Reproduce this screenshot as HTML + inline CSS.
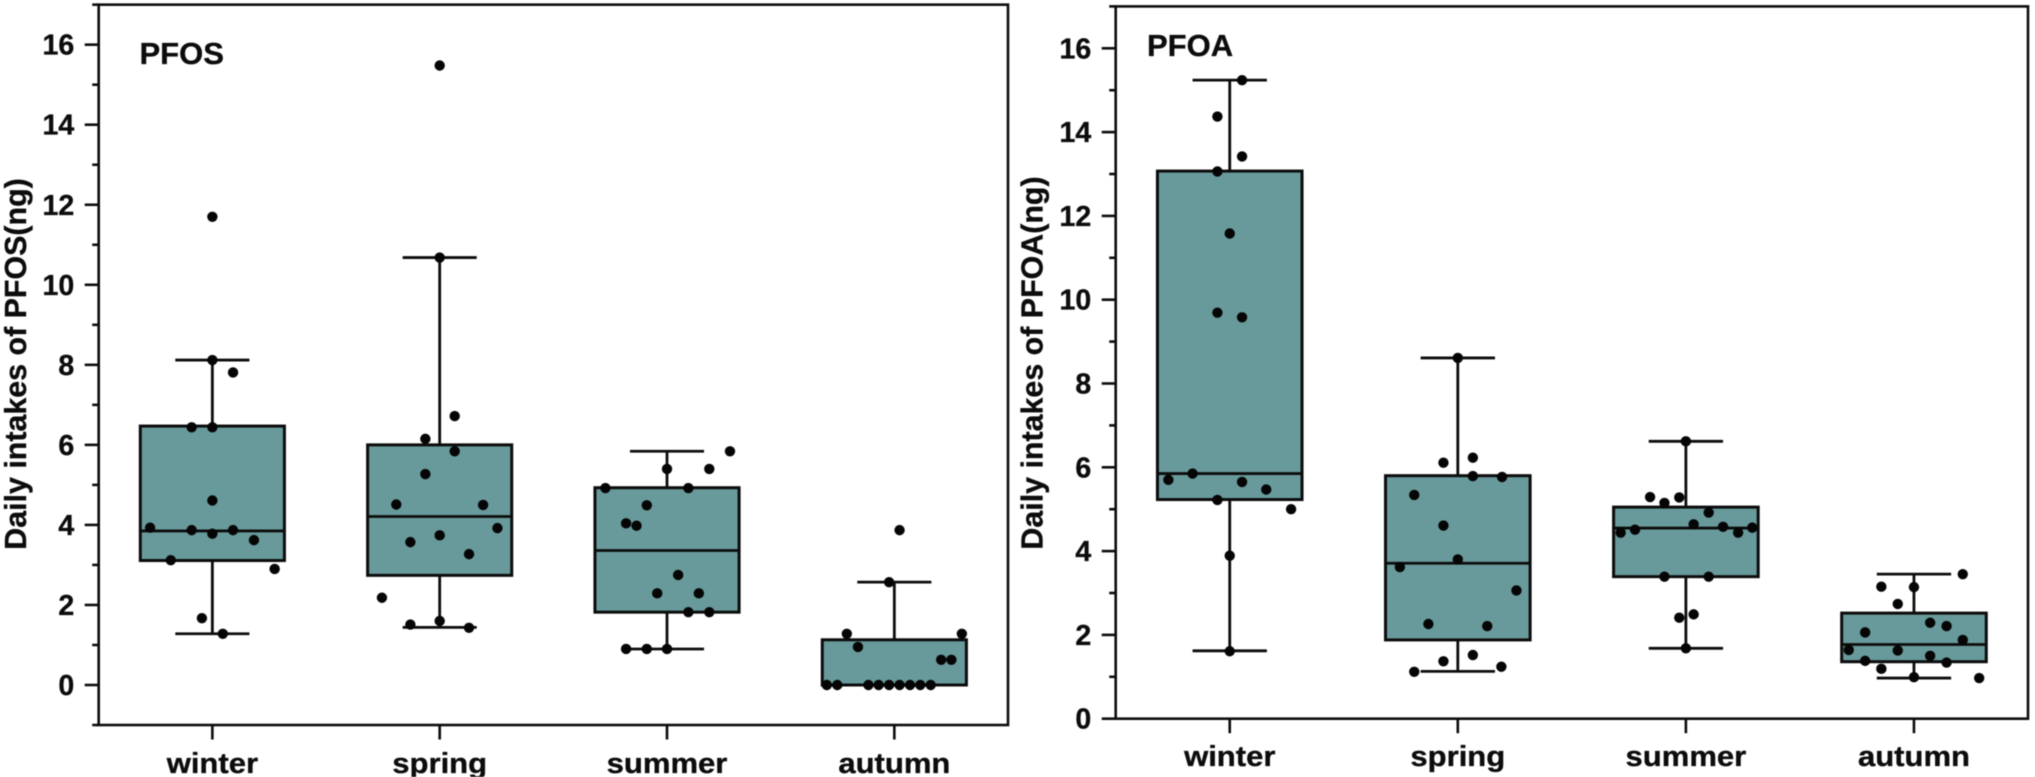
<!DOCTYPE html>
<html lang="en">
<head>
<meta charset="utf-8">
<title>Daily intakes of PFOS and PFOA by season</title>
<style>
html,body{margin:0;padding:0;background:#fff;}
body{width:2035px;height:777px;overflow:hidden;}
svg{display:block;filter:blur(0.45px);}
text{font-family:"Liberation Sans",sans-serif;font-weight:700;fill:#0c0c0c;stroke:#0c0c0c;stroke-width:0.35px;}
</style>
</head>
<body>
<svg id="chart" xmlns="http://www.w3.org/2000/svg" width="2035" height="777" viewBox="0 0 2035 777"></svg>
<script>
const categories = ["winter", "spring", "summer", "autumn"];
const yTickLabelsPfos = [0, 2, 4, 6, 8, 10, 12, 14, 16];
const yTickLabelsPfoa = [0, 2, 4, 6, 8, 10, 12, 14, 16];

// box statistics per season, same order as categories
const pfosWhiskerLow  = [1.28, 1.44, 0.90, 0.00];
const pfosQ1          = [3.11, 2.74, 1.82, 0.00];
const pfosMedian      = [3.85, 4.21, 3.36, 0.00];
const pfosQ3          = [6.47, 6.00, 4.93, 1.13];
const pfosWhiskerHigh = [8.12, 10.68, 5.84, 2.57];

const pfoaWhiskerLow  = [1.62, 1.13, 1.68, 0.97];
const pfoaQ1          = [5.23, 1.88, 3.39, 1.36];
const pfoaMedian      = [5.85, 3.71, 4.55, 1.77];
const pfoaQ3          = [13.07, 5.80, 5.05, 2.52];
const pfoaWhiskerHigh = [15.24, 8.61, 6.62, 3.45];

// sample points: value, and horizontal jitter in category units
const pfosWinterValues = [11.70, 8.12, 7.81, 6.44, 6.44, 4.61, 3.93, 3.87, 3.87, 3.78, 3.62, 3.12, 2.90, 1.67, 1.28];
const pfosWinterJitter = [0, 0, .091, -.091, 0, 0, -.274, -.091, .091, 0, .183, -.183, .274, -.046, .046];
const pfosSpringValues = [15.48, 10.68, 6.72, 6.15, 5.84, 5.27, 4.51, 4.50, 3.92, 3.74, 3.57, 3.27, 2.18, 1.60, 1.51, 1.43];
const pfosSpringJitter = [0, 0, .066, -.063, .066, -.063, -.191, .191, .254, 0, -.129, .129, -.254, 0, -.129, .129];
const pfosSummerValues = [5.84, 5.40, 5.40, 4.92, 4.92, 4.49, 4.04, 3.98, 2.75, 2.29, 2.29, 1.82, 1.82, 0.90, 0.90, 0.90];
const pfosSummerJitter = [.277, 0, .186, -.271, .094, -.089, -.18, -.134, .049, -.043, .14, .094, .186, -.18, -.089, 0];
const pfosAutumnValues = [3.87, 2.57, 1.28, 1.28, 0.95, 0.63, 0.63, 0, 0, 0, 0, 0, 0, 0, 0, 0];
const pfosAutumnJitter = [.023, -.023, -.209, .297, -.16, .206, .251, -.297, -.251, -.114, -.069, -.023, .023, .069, .114, .16];

const pfoaWinterValues = [15.24, 14.37, 13.42, 13.06, 11.58, 9.69, 9.58, 5.85, 5.70, 5.65, 5.47, 5.22, 5.00, 3.89, 1.61];
const pfoaWinterJitter = [.054, -.054, .054, -.054, 0, -.054, .054, -.163, -.269, .054, .16, -.054, .269, 0, 0];
const pfoaSpringValues = [8.61, 6.23, 6.11, 5.79, 5.77, 5.34, 4.61, 3.80, 3.62, 3.06, 2.26, 2.21, 1.52, 1.37, 1.24, 1.12];
const pfoaSpringJitter = [0, .066, -.063, .066, .194, -.191, -.063, 0, -.254, .257, -.129, .129, .066, -.063, .191, -.191];
const pfoaSummerValues = [6.62, 5.29, 5.28, 5.15, 4.92, 4.64, 4.58, 4.51, 4.56, 4.44, 4.44, 3.39, 3.39, 2.49, 2.41, 1.68];
const pfoaSummerJitter = [0, -.157, -.029, -.094, .1, .034, .163, -.223, .291, -.286, .229, -.094, .1, .034, -.029, 0];
const pfoaAutumnValues = [3.45, 3.15, 3.14, 2.74, 2.29, 2.21, 2.06, 1.88, 1.64, 1.63, 1.50, 1.38, 1.34, 1.19, 0.99, 0.97];
const pfoaAutumnJitter = [.214, -.143, 0, -.071, .071, .143, -.214, .214, -.286, -.071, .071, -.214, .143, -.143, 0, .286];

const NS = "http://www.w3.org/2000/svg";
const root = document.getElementById("chart");
const BOX_FILL = "#699a9b";
const INK = "#0c0c0c";
const BOX_HALF = 0.317;
const CAP_HALF = 0.163;

function make(parent, tag, props) {
  const el = document.createElementNS(NS, tag);
  for (const k in props) el.setAttribute(k, props[k]);
  parent.appendChild(el);
  return el;
}

function drawPanel(p) {
  const xScale = v => p.left + (v - 0.5) * (p.right - p.left) / categories.length;
  const yScale = v => p.zeroY - (v - 0) * p.unit;
  const yTop = yScale(p.yMax), yBottom = yScale(p.yMin);

  const g = make(root, "g", {});
  
  

  // boxes, whiskers
  categories.forEach((cat, i) => {
    const cx = xScale(i + 1);
    const box = make(g, "g", {});
    
    
    const stem = make(box, "line", {x1: cx, x2: cx, y1: yScale(p.whiskerHigh[i]), y2: yScale(p.whiskerLow[i]), stroke: INK, "stroke-width": 2.8});
    
    
    const unitW = (p.right - p.left) / categories.length;
    [p.whiskerHigh[i], p.whiskerLow[i]].forEach(v => {
      const cap = make(box, "line", {x1: cx - CAP_HALF * unitW, x2: cx + CAP_HALF * unitW, y1: yScale(v), y2: yScale(v), stroke: INK, "stroke-width": 2.8});
      
      
    });
    const rect = make(box, "rect", {x: cx - BOX_HALF * unitW, width: 2 * BOX_HALF * unitW, y: yScale(p.q3[i]), height: yScale(p.q1[i]) - yScale(p.q3[i]), fill: BOX_FILL, stroke: INK, "stroke-width": 3});
    
    
    const med = make(box, "line", {x1: cx - BOX_HALF * unitW, x2: cx + BOX_HALF * unitW, y1: yScale(p.median[i]), y2: yScale(p.median[i]), stroke: INK, "stroke-width": 2.8});
    
    
  });

  // sample points
  categories.forEach((cat, i) => {
    p.values[i].forEach((v, j) => {
      const dot = make(g, "circle", {cx: xScale(i + 1 + p.jitter[i][j]), cy: yScale(v), r: 5.2, fill: "#050505"});
      
      
    });
  });

  // frame
  const frame = make(g, "rect", {x: p.left, y: yTop, width: p.right - p.left, height: yBottom - yTop, fill: "none", stroke: INK, "stroke-width": 2.6});
  
  

  // y ticks
  p.yTicks.forEach(t => {
    const tick = make(g, "line", {x1: p.left - 14, x2: p.left, y1: yScale(t), y2: yScale(t), stroke: INK, "stroke-width": 2.6});
    
    
    const lab = make(g, "text", {x: p.left - 24.5, y: yScale(t) + 10, "text-anchor": "end", "font-size": 28.5});
    lab.textContent = t;
    
    
  });
  for (let m = Math.ceil(p.yMin); m <= p.yMax; m++) {
    if (Math.abs(m % 2) !== 1) continue;
    const minor = make(g, "line", {x1: p.left - 6.5, x2: p.left, y1: yScale(m), y2: yScale(m), stroke: INK, "stroke-width": 2.6});
    
    
  }

  // x ticks + labels
  categories.forEach((cat, i) => {
    const cx = xScale(i + 1);
    const tick = make(g, "line", {x1: cx, x2: cx, y1: yBottom, y2: yBottom + 14.5, stroke: INK, "stroke-width": 2.6});
    
    
    const lab = make(g, "text", {transform: `translate(${cx},${p.xLabelY}) scale(1.07,1)`, "text-anchor": "middle", "font-size": 29});
    lab.textContent = cat;
    
    
  });

  // panel label + y title
  const tag = make(g, "text", {x: p.tagX, y: p.tagY, "font-size": 31});
  tag.textContent = p.name;
  
  

  const title = make(g, "text", {transform: `translate(${p.titleX},${p.titleY}) rotate(-90)`, "text-anchor": "middle", "font-size": 30.4});
  title.textContent = "Daily intakes of " + p.name + "(ng)";
  
  
}

drawPanel({
  key: "pfos", name: "PFOS",
  left: 98.7, right: 1008, zeroY: 685, unit: 40.02, yMin: -1, yMax: 17,
  yTicks: yTickLabelsPfos,
  whiskerLow: pfosWhiskerLow, q1: pfosQ1, median: pfosMedian, q3: pfosQ3, whiskerHigh: pfosWhiskerHigh,
  values: [pfosWinterValues, pfosSpringValues, pfosSummerValues, pfosAutumnValues],
  jitter: [pfosWinterJitter, pfosSpringJitter, pfosSummerJitter, pfosAutumnJitter],
  xLabelY: 773, tagX: 139.5, tagY: 64, titleX: 26, titleY: 364
});
drawPanel({
  key: "pfoa", name: "PFOA",
  left: 1115.7, right: 2028, zeroY: 718.7, unit: 41.9, yMin: 0, yMax: 17,
  yTicks: yTickLabelsPfoa,
  whiskerLow: pfoaWhiskerLow, q1: pfoaQ1, median: pfoaMedian, q3: pfoaQ3, whiskerHigh: pfoaWhiskerHigh,
  values: [pfoaWinterValues, pfoaSpringValues, pfoaSummerValues, pfoaAutumnValues],
  jitter: [pfoaWinterJitter, pfoaSpringJitter, pfoaSummerJitter, pfoaAutumnJitter],
  xLabelY: 766, tagX: 1147, tagY: 56, titleX: 1042.5, titleY: 363
});
</script>
</body>
</html>
